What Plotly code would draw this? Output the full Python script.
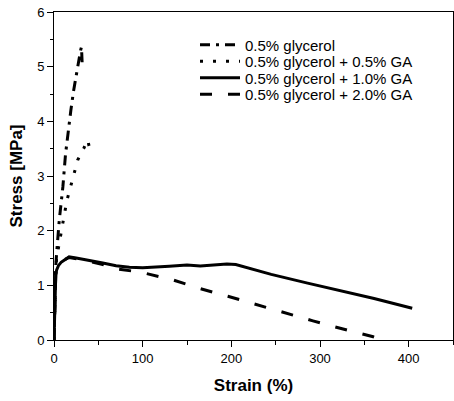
import plotly.graph_objects as go

labels = ["0.5% glycerol", "0.5% glycerol + 0.5% GA", "0.5% glycerol + 1.0% GA", "0.5% glycerol + 2.0% GA"]

x_g = [0, 0.5, 1, 2, 3, 4, 6, 8, 10, 13, 16, 19, 22, 25, 28, 30, 31, 31.5, 32]
y_g = [0, 0.4, 0.9, 1.35, 1.6, 1.85, 2.2, 2.5, 2.8, 3.4, 3.85, 4.2, 4.55, 4.85, 5.15, 5.3, 5.36, 5.2, 4.97]

x_05 = [0, 0.5, 1, 2, 3, 5, 7, 8.7, 11.6, 14.7, 18.4, 23, 26.7, 30, 33.5, 36, 38, 39.5, 41]
y_05 = [0, 0.4, 0.9, 1.3, 1.5, 1.7, 1.88, 2.01, 2.29, 2.56, 2.77, 3.05, 3.29, 3.4, 3.5, 3.6, 3.66, 3.55, 3.5]

x_10 = [0, 0.5, 1, 1.5, 2, 3, 5, 8, 12, 17, 25, 40, 55, 70, 85, 100, 115, 130, 150, 165, 180, 195, 205, 245, 286, 325, 361, 404]
y_10 = [0, 0.3, 0.7, 1.0, 1.2, 1.28, 1.36, 1.42, 1.47, 1.52, 1.50, 1.46, 1.41, 1.36, 1.33, 1.32, 1.33, 1.35, 1.37, 1.355, 1.37, 1.39, 1.38, 1.20, 1.04, 0.90, 0.76, 0.58]

x_20 = [0, 0.5, 1, 1.5, 2, 3, 5, 8, 12, 17, 25, 40, 55, 70, 80, 98, 134, 165, 196, 229, 260, 292, 326, 360, 370]
y_20 = [0, 0.3, 0.7, 1.0, 1.2, 1.28, 1.36, 1.42, 1.47, 1.51, 1.49, 1.44, 1.38, 1.30, 1.28, 1.24, 1.10, 0.94, 0.80, 0.645, 0.49, 0.35, 0.20, 0.06, 0.0]

x_ticks = [0, 100, 200, 300, 400]
y_ticks = [0, 1, 2, 3, 4, 5, 6]

FONT = "Liberation Sans, Arial, sans-serif"

# plot area in pixels (for legend placement)
W, H = 454, 401
ML, MR, MT, MB = 54, 1, 12, 61
PH = H - MT - MB
PW = W - ML - MR

fig = go.Figure()
series = [
    (x_g, y_g, "10px,6px,3px,6px"),
    (x_05, y_05, "3px,10px"),
    (x_10, y_10, "solid"),
    (x_20, y_20, "12px,16px"),
]
legend_names = ["legend", "legend2", "legend3", "legend4"]
legend_rows_px = [45, 61.5, 78, 94.5]
for (xs, ys, dash), name, lg in zip(series, labels, legend_names):
    fig.add_trace(go.Scatter(x=xs, y=ys, mode="lines", name=name, legend=lg,
                             line=dict(color="black", width=3, dash=dash)))

axis_common = dict(
    showgrid=False, zeroline=False, showline=True, linecolor="black", linewidth=1,
    mirror=True, ticks="outside", ticklen=6, tickcolor="black", tickwidth=1,
    tickfont=dict(family=FONT, size=13, color="black"), automargin=False,
)
fig.update_xaxes(range=[0, 450], tickvals=x_ticks,
                 minor=dict(ticks="outside", ticklen=4, dtick=50, tickcolor="black"),
                 title=dict(text="<b>Strain (%)</b>", font=dict(family=FONT, size=17, color="black"), standoff=14),
                 **axis_common)
fig.update_yaxes(range=[0, 6], tickvals=y_ticks,
                 minor=dict(ticks="outside", ticklen=3, dtick=0.5, tickcolor="black"),
                 title=dict(text="<b>Stress [MPa]</b>", font=dict(family=FONT, size=17, color="black"), standoff=10),
                 **axis_common)

legends = {}
for lg, py in zip(legend_names, legend_rows_px):
    legends[lg] = dict(
        x=(195 - ML) / PW, y=(H - MB - py) / PH, xanchor="left", yanchor="middle",
        bgcolor="rgba(0,0,0,0)", font=dict(family=FONT, size=15, color="black"),
        itemwidth=40, borderwidth=0,
    )

fig.update_layout(
    width=W, height=H, autosize=False,
    margin=dict(l=ML, r=MR, t=MT, b=MB),
    paper_bgcolor="white", plot_bgcolor="white",
    font=dict(family=FONT, size=13, color="black"),
    showlegend=True,
    **legends,
)

post = ("document.body.style.margin='0';document.body.style.padding='0';"
        "document.body.style.overflow='hidden';"
        "var gd=document.getElementById('{plot_id}');"
        "Plotly.relayout(gd,{width:%d,height:%d});" % (W, H))

fig.write_html("out.html", config={"responsive": False, "displayModeBar": False}, post_script=post)
